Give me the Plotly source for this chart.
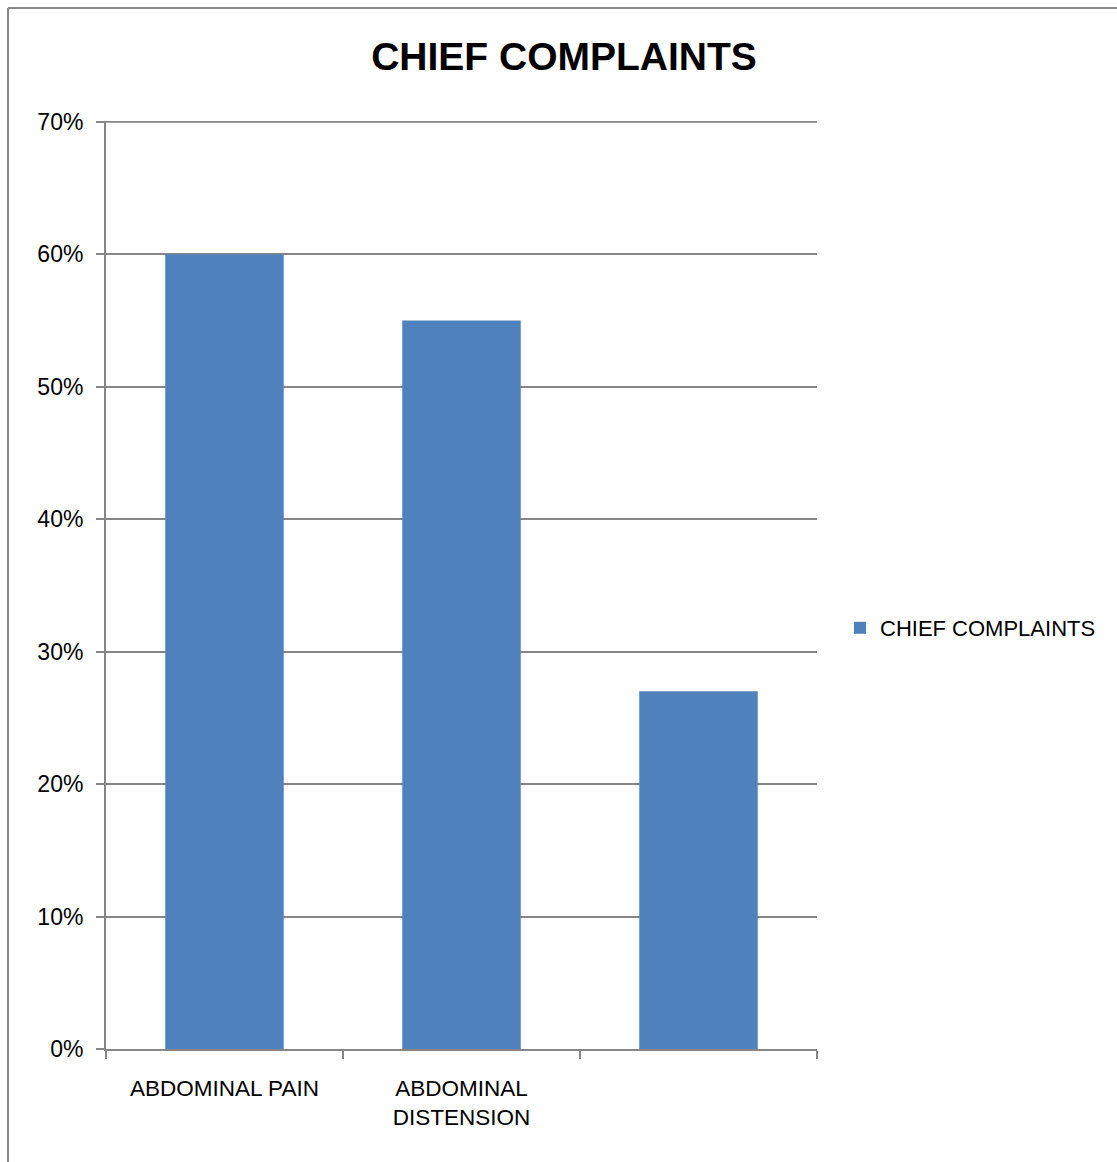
import plotly.graph_objects as go

# Chief complaints, share of patients (%)
categories = ["ABDOMINAL PAIN", "ABDOMINAL<br>DISTENSION", " "]
percentages = [60, 55, 27]
series_name = "CHIEF COMPLAINTS"
y_ticks = [0, 10, 20, 30, 40, 50, 60, 70]
y_tick_labels = [f"{v}%" for v in y_ticks]

W, H = 1117, 1162
L, R, T, B = 106, 300, 121, 113
FONT = "Liberation Sans, Arial, sans-serif"
GRID = "#868686"
BAR = "#4F81BD"

fig = go.Figure()
fig.add_trace(go.Bar(
    x=categories,
    y=percentages,
    name=series_name,
    marker=dict(color=BAR, line=dict(width=0)),
    width=0.5,
    showlegend=True,
))

pw, ph = W - L - R, H - T - B

def px_x(px):
    return (px - L) / pw

def px_y(py):
    return (H - B - py) / ph

# outer chart frame (left and top edges)
fig.add_shape(type="line", xref="paper", yref="paper",
              x0=px_x(8), x1=px_x(8), y0=px_y(8), y1=px_y(H + 20),
              line=dict(color="#878787", width=2))
fig.add_shape(type="line", xref="paper", yref="paper",
              x0=px_x(8), x1=px_x(W + 20), y0=px_y(8), y1=px_y(8),
              line=dict(color="#878787", width=2))
# gridline at the top of the value range
fig.add_shape(type="line", xref="paper", yref="y", layer="below",
              x0=0, x1=1, y0=y_ticks[-1], y1=y_ticks[-1],
              line=dict(color=GRID, width=2))

fig.update_layout(
    width=W, height=H,
    margin=dict(l=L, r=R, t=T, b=B, autoexpand=False),
    paper_bgcolor="white", plot_bgcolor="white",
    font=dict(family=FONT, size=23, color="black"),
    title=dict(text="<b>CHIEF COMPLAINTS</b>", font=dict(size=39, family=FONT),
               x=564 / W, xanchor="center", xref="container",
               y=1 - 56 / H, yanchor="middle", yref="container"),
    legend=dict(x=px_x(840), y=px_y(628), xanchor="left", yanchor="middle",
                font=dict(size=22), itemwidth=30, bgcolor="rgba(0,0,0,0)"),
    bargap=0.5,
)
fig.update_xaxes(
    showline=True, linecolor=GRID, linewidth=2,
    ticks="outside", tickson="boundaries", ticklen=8, tickcolor=GRID, tickwidth=2,
    showgrid=False, tickfont=dict(size=22.5), ticklabelstandoff=18,
)
fig.update_yaxes(
    range=[0, 70.05], tickvals=y_ticks, ticktext=y_tick_labels,
    showline=True, linecolor=GRID, linewidth=2,
    ticks="outside", ticklen=8, tickcolor=GRID, tickwidth=2,
    showgrid=True, gridcolor=GRID, gridwidth=2, zeroline=False,
    tickfont=dict(size=23), ticklabelstandoff=8,
)

fig.write_html("out.html")
